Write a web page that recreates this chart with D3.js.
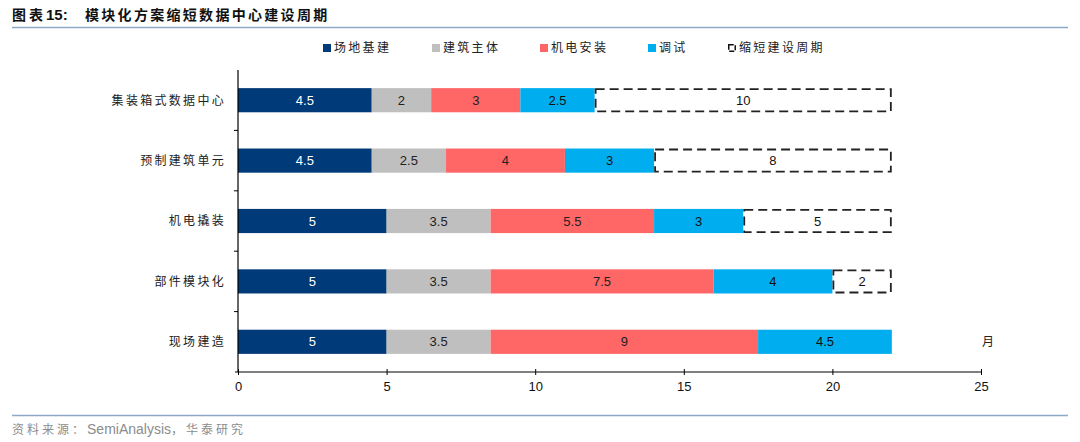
<!DOCTYPE html>
<html>
<head>
<meta charset="utf-8">
<script src="https://cdn.jsdelivr.net/npm/d3@7"></script>
<style>
  body { margin: 0; background: #fff; }
  svg { display: block; }
  .cn { font-family: "Noto Sans CJK SC", sans-serif; }
  .num { font-family: "Liberation Sans", Arial, sans-serif; }
</style>
</head>
<body>
<div id="chart"></div>
<script>
// data
const categories = ['集装箱式数据中心', '预制建筑单元', '机电撬装', '部件模块化', '现场建造'];
const seriesNames = ['场地基建', '建筑主体', '机电安装', '调试', '缩短建设周期'];
const siteWork = [4.5, 4.5, 5, 5, 5];
const building = [2, 2.5, 3.5, 3.5, 3.5];
const mep = [3, 4, 5.5, 7.5, 9];
const commissioning = [2.5, 3, 3, 4, 4.5];
const shortened = [10, 8, 5, 2, 0];
const xTicks = [0, 5, 10, 15, 20, 25];

const colors = ['#003A78', '#BFBFBF', '#FF6666', '#00AEEF', '#FFFFFF'];
const labelColors = ['#FFFFFF', '#222222', '#222222', '#111111', '#111111'];

const W = 1080, H = 442;
const margin = {top: 70, right: 99, bottom: 70, left: 238};

const svg = d3.select('#chart').append('svg')
    .attr('width', W)
    .attr('height', H);

// title + rules
const title = svg.append('text')
    .attr('x', 12).attr('y', 20)
    .attr('font-size', 14).attr('font-weight', 'bold')
    .attr('fill', '#111');
title.append('tspan')
    .attr('class', 'cn')
    .attr('letter-spacing', 3)
    .text('图表');
title.append('tspan')
    .attr('class', 'num')
    .attr('font-size', 15)
    .text('15:');
title.append('tspan')
    .attr('class', 'cn')
    .attr('x', 85)
    .attr('letter-spacing', 2.3)
    .text('模块化方案缩短数据中心建设周期');

svg.append('line')
    .attr('x1', 12).attr('x2', 1068).attr('y1', 27.5).attr('y2', 27.5)
    .attr('stroke', '#8EA9C8').attr('stroke-width', 1.5);
svg.append('line')
    .attr('x1', 12).attr('x2', 1068).attr('y1', 415.5).attr('y2', 415.5)
    .attr('stroke', '#8EA9C8').attr('stroke-width', 1.5);

const foot = svg.append('text')
    .attr('x', 12).attr('y', 434)
    .attr('font-size', 12).attr('fill', '#8c8c8c');
foot.append('tspan').attr('class', 'cn').attr('letter-spacing', 3).text('资料来源：');
foot.append('tspan').attr('class', 'num').attr('font-size', 14).text('SemiAnalysis');
foot.append('tspan').attr('class', 'cn').attr('letter-spacing', 3).text('，华泰研究');

// scales
const x = d3.scaleLinear()
    .domain([0, 25])
    .range([margin.left, W - margin.right]);

const y = d3.scaleBand()
    .domain(categories)
    .range([margin.top, H - margin.bottom])
    .paddingInner(0.6)
    .paddingOuter(0.3);

// stacked data
const table = categories.map((c, i) => ({
    cat: c,
    s0: siteWork[i], s1: building[i], s2: mep[i], s3: commissioning[i], s4: shortened[i]
}));
const stack = d3.stack().keys(['s0', 's1', 's2', 's3', 's4'])(table);

const layers = svg.selectAll('.layer')
    .data(stack)
    .enter().append('g')
    .attr('class', 'layer');

layers.each(function (layer, k) {
    const g = d3.select(this);
    const segs = layer.filter(d => d[1] - d[0] > 0);
    if (k < 4) {
        g.selectAll('rect').data(segs).enter().append('rect')
            .attr('x', d => x(d[0]))
            .attr('y', d => y(d.data.cat))
            .attr('width', d => x(d[1]) - x(d[0]))
            .attr('height', y.bandwidth())
            .attr('fill', colors[k]);
    } else {
        g.selectAll('rect').data(segs).enter().append('rect')
            .attr('x', d => x(d[0]) + 1)
            .attr('y', d => y(d.data.cat) + 1)
            .attr('width', d => x(d[1]) - x(d[0]) - 2)
            .attr('height', y.bandwidth() - 2)
            .attr('fill', '#fff')
            .attr('stroke', '#222')
            .attr('stroke-width', 1.8)
            .attr('stroke-dasharray', '9,5');
    }
    g.selectAll('text').data(segs).enter().append('text')
        .attr('class', 'num')
        .attr('x', d => (x(d[0]) + x(d[1])) / 2)
        .attr('y', d => y(d.data.cat) + y.bandwidth() / 2)
        .attr('dy', '0.36em')
        .attr('text-anchor', 'middle')
        .attr('font-size', 13)
        .attr('fill', labelColors[k])
        .text(d => d[1] - d[0]);
});

// x axis
const xAxis = d3.axisBottom(x)
    .tickValues(xTicks)
    .tickSize(3)
    .tickPadding(7);
const gx = svg.append('g')
    .attr('transform', `translate(0, ${H - margin.bottom})`)
    .call(xAxis);
gx.select('.domain').attr('stroke', '#000').attr('stroke-width', 1.2)
    .attr('d', `M${x(0) - 3},0H${x(25)}`);
gx.selectAll('.tick line').attr('y1', -3).attr('y2', 3).attr('stroke', '#000');
gx.selectAll('.tick text')
    .attr('class', 'num')
    .attr('font-size', 13)
    .attr('fill', '#111');

// y axis
const gy = svg.append('g')
    .attr('transform', `translate(${x(0)}, 0)`);
gy.append('line')
    .attr('y1', y.range()[0]).attr('y2', y.range()[1])
    .attr('stroke', '#000').attr('stroke-width', 1.2);
gy.selectAll('.ytick')
    .data(categories.slice(1))
    .enter().append('line')
    .attr('x1', -4).attr('x2', 0)
    .attr('y1', d => y(d) - y.step() * y.paddingInner() / 2)
    .attr('y2', d => y(d) - y.step() * y.paddingInner() / 2)
    .attr('stroke', '#000');
gy.selectAll('.ylab')
    .data(categories)
    .enter().append('text')
    .attr('class', 'cn')
    .attr('x', -12)
    .attr('y', d => y(d) + y.bandwidth() / 2)
    .attr('dy', '0.36em')
    .attr('text-anchor', 'end')
    .attr('font-size', 12)
    .attr('letter-spacing', 2.3)
    .attr('fill', '#222')
    .text(d => d);

// unit
svg.append('text')
    .attr('class', 'cn')
    .attr('x', 988)
    .attr('y', y(categories[4]) + y.bandwidth() / 2)
    .attr('dy', '0.36em')
    .attr('text-anchor', 'middle')
    .attr('font-size', 12)
    .attr('fill', '#222')
    .text('月');

// legend
const legendX = [323, 432, 540, 648, 728];
const lg = svg.append('g').attr('class', 'legend');
seriesNames.forEach((name, i) => {
    const item = lg.append('g').attr('transform', `translate(${legendX[i]}, 48)`);
    if (i < 4) {
        item.append('rect')
            .attr('x', 0).attr('y', -4)
            .attr('width', 8).attr('height', 8)
            .attr('fill', colors[i]);
    } else {
        item.append('rect')
            .attr('x', 0.75).attr('y', -3.25)
            .attr('width', 6.5).attr('height', 6.5)
            .attr('fill', '#fff')
            .attr('stroke', '#111').attr('stroke-width', 1.5)
            .attr('stroke-dasharray', '5,2');
    }
    item.append('text')
        .attr('class', 'cn')
        .attr('x', 11)
        .attr('dy', '0.36em')
        .attr('font-size', 12)
        .attr('letter-spacing', 2.3)
        .attr('fill', '#222')
        .text(name);
});
</script>
</body>
</html>
